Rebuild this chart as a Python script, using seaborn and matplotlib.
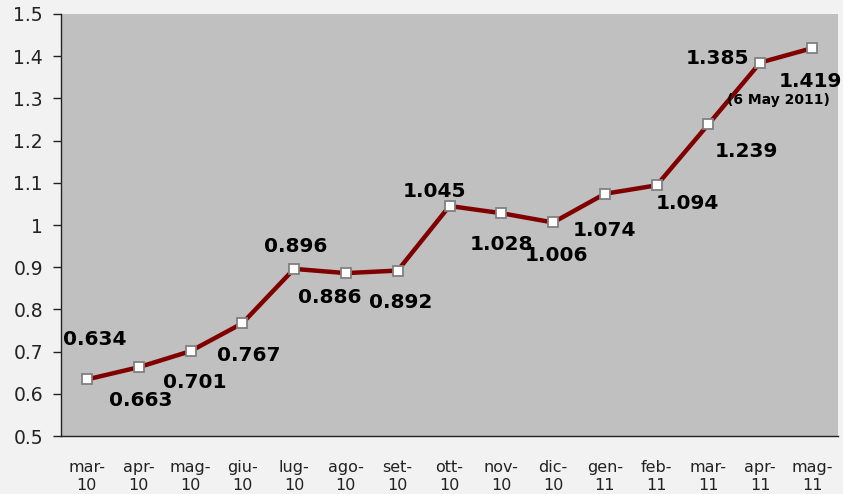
import matplotlib
matplotlib.use("Agg")
import matplotlib.pyplot as plt
import seaborn as sns
import pandas as pd
import numpy as np

months = ["mar-\n10", "apr-\n10", "mag-\n10", "giu-\n10", "lug-\n10", "ago-\n10", "set-\n10",
          "ott-\n10", "nov-\n10", "dic-\n10", "gen-\n11", "feb-\n11", "mar-\n11", "apr-\n11", "mag-\n11"]
values = [0.634, 0.663, 0.701, 0.767, 0.896, 0.886, 0.892,
          1.045, 1.028, 1.006, 1.074, 1.094, 1.239, 1.385, 1.419]
labels = ["0.634", "0.663", "0.701", "0.767", "0.896", "0.886", "0.892",
          "1.045", "1.028", "1.006", "1.074", "1.094", "1.239", "1.385", "1.419"]
note_text = "(6 May 2011)"
yticks = [0.5, 0.6, 0.7, 0.8, 0.9, 1.0, 1.1, 1.2, 1.3, 1.4, 1.5]
ytick_labels = ["0.5", "0.6", "0.7", "0.8", "0.9", "1", "1.1", "1.2", "1.3", "1.4", "1.5"]

# label offsets in pixels (dx, dy)
offsets = [(8, 40), (2, -33), (4, -31), (6, -32), (2, 22), (-16, -24), (3, -32),
           (-15, 15), (0, -31), (3, -33), (0, -37), (31, -18), (38, -27), (-43, 4), (-2, -33)]

sns.set_style("white")
plt.rcParams['font.family'] = ['DejaVu Sans']

df = pd.DataFrame({"pos": np.arange(len(values)), "value": values})

fig = plt.figure(figsize=(8.43, 4.94), dpi=100, facecolor="#f2f2f2")
ax = fig.add_axes([61/843, 1 - 436/494, (838 - 61)/843, (436 - 14)/494])
ax.set_facecolor("#c0c0c0")

sns.lineplot(data=df, x="pos", y="value", ax=ax, color="#800000", linewidth=3.2,
             marker="s", markersize=7, markerfacecolor="white",
             markeredgecolor="#808080", markeredgewidth=1.3)

for i, (v, lab) in enumerate(zip(values, labels)):
    dx, dy = offsets[i]
    ax.annotate(lab, (i, v), xytext=(dx, dy), textcoords="offset pixels",
                ha="center", va="center", fontsize=14.5, fontweight="bold", color="black")
ax.annotate(note_text, (14, values[-1]), xytext=(-34, -52), textcoords="offset pixels",
            ha="center", va="center", fontsize=10, fontweight="bold", color="black")

ax.set_xlim(-0.5, len(values) - 0.5)
ax.set_ylim(0.5, 1.5)
ax.set_yticks(yticks)
ax.set_yticklabels(ytick_labels, fontsize=13.5, color="#222222")
ax.set_xticks(np.arange(len(values)))
ax.set_xticklabels(months, fontsize=11.5, color="#222222", linespacing=1.25)
ax.set_xticks(np.arange(len(values) + 1) - 0.5, minor=True)
ax.tick_params(axis="x", which="major", length=0, pad=17)
ax.tick_params(axis="x", which="minor", length=6, width=1, color="#222222", direction="out")
ax.tick_params(axis="y", which="major", length=6, width=1, color="#222222", direction="out", left=True, pad=7)
ax.set_xlabel("")
ax.set_ylabel("")
ax.grid(False)
for s in ["top", "right"]:
    ax.spines[s].set_visible(False)
for s in ["left", "bottom"]:
    ax.spines[s].set_color("#222222")
    ax.spines[s].set_linewidth(1)

fig.savefig("out.png", dpi=100, facecolor=fig.get_facecolor())
